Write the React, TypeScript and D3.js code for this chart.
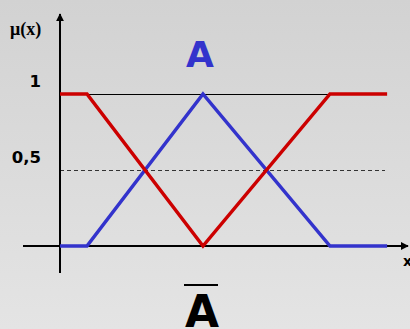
import React from "react";
import * as d3 from "d3";

const W = 410;
const H = 329;

const xBreaks = [0, 0.93, 4.93, 9.31, 11.28];
const muA = [0, 0, 1, 0, 0];
const muNotA = [1, 1, 0, 1, 1];
const yTicks = [
  { v: 1, label: "1" },
  { v: 0.5, label: "0,5" },
];

export default function App() {
  const x = d3.scaleLinear().domain([0, 12]).range([60, 408]);
  const y = d3.scaleLinear().domain([0, 1]).range([246, 94]);
  const line = d3
    .line<number>()
    .x((_, i) => x(xBreaks[i]))
    .y((d) => y(d));

  return (
    <svg
      width={W}
      height={H}
      style={{ position: "absolute", left: 0, top: 0 }}
      xmlns="http://www.w3.org/2000/svg"
    >
      <defs>
        <linearGradient id="bg" x1="0" y1="0" x2="0" y2="1">
          <stop offset="0" stopColor="#d2d2d2" />
          <stop offset="1" stopColor="#e4e4e4" />
        </linearGradient>
        <marker
          id="arrow"
          viewBox="0 0 10 10"
          refX="9"
          refY="5"
          markerWidth="8"
          markerHeight="8"
          markerUnits="userSpaceOnUse"
          orient="auto"
        >
          <path d="M0,0 L10,5 L0,10 Z" fill="#000" />
        </marker>
      </defs>
      <rect width={W} height={H} fill="url(#bg)" />
      {/* reference lines */}
      <line
        x1={x(xBreaks[1])}
        x2={x(xBreaks[3])}
        y1={y(1) + 0.5}
        y2={y(1) + 0.5}
        stroke="#000"
        strokeWidth={1}
        shapeRendering="crispEdges"
      />
      <line
        x1={x(0)}
        x2={x(11.2)}
        y1={y(0.5) + 0.5}
        y2={y(0.5) + 0.5}
        stroke="#333"
        strokeWidth={1}
        strokeDasharray="4,3"
        shapeRendering="crispEdges"
      />
      {/* axes */}
      <line
        x1={x(0)}
        x2={x(0)}
        y1={273}
        y2={14}
        stroke="#000"
        strokeWidth={2}
        markerEnd="url(#arrow)"
      />
      <line
        x1={23}
        x2={x(12)}
        y1={y(0)}
        y2={y(0)}
        stroke="#000"
        strokeWidth={2}
        markerEnd="url(#arrow)"
      />
      {/* membership lines */}
      <path d={line(muA) || ""} fill="none" stroke="#3333cc" strokeWidth={3.5} />
      <path d={line(muNotA) || ""} fill="none" stroke="#cc0000" strokeWidth={3.5} />
      {/* labels */}
      <text
        x={10}
        y={35}
        fontFamily="'Liberation Serif', 'DejaVu Serif', serif"
        fontWeight="bold"
        fontSize={18}
        fill="#000"
      >
        μ(x)
      </text>
      {yTicks.map((t) => (
        <text
          key={t.label}
          x={41}
          y={y(t.v) - 7.5}
          textAnchor="end"
          fontFamily="'DejaVu Sans', sans-serif"
          fontWeight="bold"
          fontSize={16.5}
          fill="#000"
        >
          {t.label}
        </text>
      ))}
      <text
        x={x(xBreaks[2]) - 3}
        y={67}
        textAnchor="middle"
        fontFamily="'DejaVu Sans', sans-serif"
        fontWeight="bold"
        fontSize={36}
        fill="#3333cc"
      >
        A
      </text>
      <text
        x={x(xBreaks[2]) - 1}
        y={327}
        textAnchor="middle"
        fontFamily="'DejaVu Sans', sans-serif"
        fontWeight="bold"
        fontSize={44}
        fill="#000"
      >
        A
      </text>
      <line x1={184} x2={218} y1={285} y2={285} stroke="#000" strokeWidth={2} />
      <text
        x={403}
        y={266}
        fontFamily="'DejaVu Sans', sans-serif"
        fontWeight="bold"
        fontSize={14}
        fill="#000"
      >
        x
      </text>
    </svg>
  );
}
